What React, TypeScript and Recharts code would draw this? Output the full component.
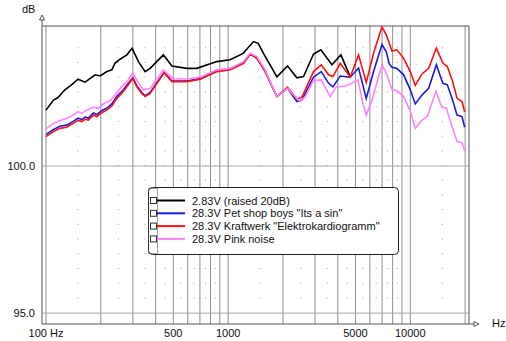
import { Legend, Line, LineChart, ReferenceLine, XAxis, YAxis } from 'recharts'

// axis range, Hz and dB
const X_MIN = 95.1
const X_MAX = 21000
const Y_MIN = 94.63
const Y_MAX = 104.76

const X_TICKS = [100, 500, 1000, 5000, 10000]
const Y_TICKS = [95, 100]
const GRID_FREQS = [
  100, 200, 300, 400, 500, 600, 700, 800, 900, 1000, 2000, 3000, 4000, 5000, 6000, 7000, 8000,
  9000, 10000, 20000,
]
const DOT_FREQS = [
  150, 250, 350, 450, 550, 650, 750, 850, 1500, 2500, 3500, 4500, 5500, 6500, 7500, 8500, 15000,
]

const BLACK_FREQ = [
  100, 110, 116, 127, 138, 150, 164, 175, 186, 198, 216, 230, 239, 255, 278, 297, 322, 350, 373,
  441, 491, 593, 673, 867, 1026, 1209, 1377, 1462, 1563, 1852, 2118, 2385, 2593, 2943, 3229, 3714,
  4160, 4680,
]
const BLACK_DB = [
  101.9, 102.24, 102.32, 102.59, 102.76, 102.95, 102.85, 102.98, 103.1, 103.06, 103.21, 103.27,
  103.49, 103.63, 103.78, 104.0, 103.55, 103.21, 103.32, 103.78, 103.4, 103.32, 103.32, 103.55,
  103.61, 103.83, 104.23, 104.17, 103.83, 103.03, 103.4, 103.0, 103.04, 103.81, 103.95, 103.44,
  103.78, 103.03,
]

const BLUE_FREQ = [
  100, 110, 119, 130, 141, 150, 157, 164, 171, 182, 190, 202, 216, 230, 245, 266, 283, 300, 315,
  336, 350, 373, 445, 491, 593, 702, 867, 1026, 1214, 1321, 1438, 1597, 1852, 2118, 2385, 2540,
  2943, 3243, 3557, 3761, 4125, 4680, 5198, 5731, 6287, 6990, 7380, 7670, 7936, 8450, 9190, 10000,
  10650, 11590, 12610, 13900, 15090, 15970, 17080, 18050, 19230, 19880,
]
const BLUE_DB = [
  101.07, 101.24, 101.35, 101.39, 101.52, 101.63, 101.58, 101.66, 101.63, 101.8, 101.75, 101.88,
  101.97, 102.11, 102.37, 102.59, 102.81, 103.0, 102.73, 102.5, 102.39, 102.5, 103.19, 102.89,
  102.89, 102.97, 103.22, 103.28, 103.5, 103.81, 103.67, 103.22, 102.36, 102.64, 102.19, 102.24,
  103.02, 103.21, 102.82, 102.69, 103.06, 103.02, 103.33, 102.3, 103.21, 104.13, 103.88, 103.47,
  103.36, 103.32, 103.1, 102.59, 102.11, 102.41, 102.64, 103.44, 102.81, 102.76, 102.24, 101.73,
  101.68, 101.32,
]

const RED_FREQ = [
  100, 110, 119, 130, 141, 150, 157, 164, 171, 182, 190, 202, 216, 230, 245, 266, 283, 300, 315,
  336, 350, 373, 445, 491, 593, 702, 867, 1026, 1214, 1321, 1438, 1597, 1852, 2118, 2385, 2540,
  2943, 3243, 3557, 3761, 4125, 4680, 5198, 5731, 6287, 6990, 7380, 7936, 8450, 9190, 10000, 10650,
  11590, 12610, 13900, 15090, 15970, 17080, 18050, 19230, 19880,
]
const RED_DB = [
  101.0, 101.17, 101.28, 101.32, 101.45, 101.56, 101.51, 101.59, 101.56, 101.73, 101.68, 101.81,
  101.9, 102.04, 102.3, 102.53, 102.76, 102.98, 102.7, 102.47, 102.36, 102.47, 103.17, 102.87,
  102.87, 102.95, 103.21, 103.27, 103.49, 103.81, 103.66, 103.21, 102.36, 102.68, 102.27, 102.34,
  103.21, 103.44, 103.1, 103.04, 103.49, 103.02, 103.78, 102.84, 103.84, 104.73, 104.46, 103.91,
  103.95, 103.66, 103.21, 102.74, 103.13, 103.32, 104.01, 103.5, 103.38, 102.87, 102.3, 102.19,
  101.84,
]

const PINK_FREQ = [
  100, 110, 119, 130, 141, 150, 157, 167, 182, 194, 206, 225, 239, 255, 278, 300, 315, 342, 373,
  441, 501, 593, 702, 867, 1026, 1214, 1321, 1438, 1597, 1852, 2118, 2486, 2650, 2943, 3243, 3635,
  3920, 4395, 4680, 5160, 5497, 5731, 6160, 6990, 7380, 7936, 8450, 9190, 10000, 10650, 11590,
  12400, 13810, 14890, 15770, 16950, 18050, 19230, 19930,
]
const PINK_DB = [
  101.26, 101.45, 101.54, 101.62, 101.73, 101.85, 101.79, 101.9, 102.0, 101.96, 102.11, 102.22,
  102.41, 102.64, 102.87, 103.16, 102.93, 102.59, 102.64, 103.27, 102.96, 102.96, 103.02, 103.27,
  103.32, 103.55, 103.83, 103.72, 103.27, 102.36, 102.64, 102.19, 102.36, 102.91, 102.93, 102.36,
  102.69, 102.72, 102.79, 102.93, 102.13, 101.73, 102.24, 103.44, 103.16, 102.59, 102.56, 102.36,
  101.87, 101.28, 101.56, 101.68, 102.53, 102.01, 101.96, 101.34, 100.84, 100.78, 100.51,
]

const toPoints = (freqs: number[], dbs: number[]) => freqs.map((f, i) => ({ f, db: dbs[i] }))

const SERIES = [
  { name: '2.83V (raised 20dB)', color: '#000000', data: toPoints(BLACK_FREQ, BLACK_DB) },
  { name: '28.3V Pet shop boys "Its a sin"', color: '#1a1adf', data: toPoints(BLUE_FREQ, BLUE_DB) },
  {
    name: '28.3V Kraftwerk "Elektrokardiogramm"',
    color: '#ff1010',
    data: toPoints(RED_FREQ, RED_DB),
  },
  { name: '28.3V Pink noise', color: '#ff80ff', data: toPoints(PINK_FREQ, PINK_DB) },
]
const SERIES_NAMES = SERIES.map((s) => s.name)

const WIDTH = 506
const HEIGHT = 341
const MARGIN = { top: 26, right: 37, bottom: 0, left: 0 }
const PLOT_H = HEIGHT - MARGIN.top - 17
const DOT_GAP = (0.5 * PLOT_H) / (Y_MAX - Y_MIN) - 1

const FONT = '"Liberation Sans", Arial, sans-serif'

function LegendBox({ payload }: any) {
  // keep the series order, recharts sorts the payload by name
  const items = [...(payload ?? [])].sort(
    (a: any, b: any) => SERIES_NAMES.indexOf(a.value) - SERIES_NAMES.indexOf(b.value),
  )
  return (
    <svg width={252} height={69} style={{ display: 'block' }}>
      <rect x={0.5} y={0.5} width={250} height={67} rx={4} fill="#fff" stroke="#222" />
      <rect x={0.5} y={1.5} width={9} height={65} fill="none" stroke="#444" strokeDasharray="1 1" />
      {items.map((item: any, i: number) => {
        const y = 13.5 + i * 12.8
        return (
          <g key={item.value}>
            <rect x={2.5} y={y - 3} width={6} height={6} fill="#fff" stroke="#333" />
            <line x1={9} x2={37} y1={y} y2={y} stroke={item.color} strokeWidth={2} />
            <text x={44} y={y + 4} fontSize={11} fontFamily={FONT} fill="#111">
              {item.value}
            </text>
          </g>
        )
      })}
    </svg>
  )
}

export default function App() {
  return (
    <div
      style={{
        position: 'absolute',
        left: 0,
        top: 0,
        width: WIDTH,
        height: HEIGHT,
        background: '#fff',
        fontFamily: FONT,
      }}
    >
      <LineChart width={WIDTH} height={HEIGHT} margin={MARGIN}>
        <XAxis
          dataKey="f"
          type="number"
          scale="log"
          domain={[X_MIN, X_MAX]}
          allowDataOverflow
          ticks={X_TICKS}
          tickFormatter={(v: number) => (v === 100 ? '100 Hz' : String(v))}
          tickSize={0}
          tickMargin={5}
          height={17}
          axisLine={{ stroke: '#555' }}
          tick={{ fill: '#111', fontSize: 11, fontFamily: FONT }}
        />
        <YAxis
          dataKey="db"
          type="number"
          domain={[Y_MIN, Y_MAX]}
          allowDataOverflow
          ticks={Y_TICKS}
          tickFormatter={(v: number) => v.toFixed(1)}
          tickSize={0}
          tickMargin={7}
          width={42}
          axisLine={{ stroke: '#555' }}
          tick={{ fill: '#111', fontSize: 11, fontFamily: FONT }}
        />
        {GRID_FREQS.map((f) => (
          <ReferenceLine key={`g${f}`} x={f} stroke="#8f8f8f" />
        ))}
        {DOT_FREQS.map((f) => (
          <ReferenceLine
            key={`d${f}`}
            segment={[
              { x: f, y: 95.5 },
              { x: f, y: 104.5 },
            ]}
            stroke="#9a9a9a"
            strokeDasharray={`1 ${DOT_GAP}`}
          />
        ))}
        {Y_TICKS.map((v) => (
          <ReferenceLine key={`h${v}`} y={v} stroke="#a8a8a8" />
        ))}
        <ReferenceLine y={Y_MAX} stroke="#555" />
        <ReferenceLine x={X_MAX} stroke="#555" />
        {SERIES.map((s) => (
          <Line
            key={s.name}
            data={s.data}
            dataKey="db"
            name={s.name}
            type="linear"
            stroke={s.color}
            strokeWidth={1.6}
            dot={false}
            isAnimationActive={false}
          />
        ))}
        <Legend
          layout="vertical"
          verticalAlign="middle"
          align="center"
          content={<LegendBox />}
          wrapperStyle={{ position: 'absolute', left: 148, top: 187, width: 252 }}
        />
      </LineChart>
      <svg
        width={WIDTH}
        height={HEIGHT}
        style={{ position: 'absolute', left: 0, top: 0, pointerEvents: 'none' }}
      >
        <line x1={42} x2={42} y1={20} y2={26} stroke="#555" />
        <polygon points="42,15 39.5,20 44.5,20" fill="#fff" stroke="#555" />
        <line x1={469} x2={474} y1={324} y2={324} stroke="#555" />
        <polygon points="479,324 474,321.5 474,326.5" fill="#fff" stroke="#555" />
        <text x={22} y={13} fontSize={11} fontFamily={FONT} fill="#111">
          dB
        </text>
        <text x={492} y={327} fontSize={11} fontFamily={FONT} fill="#111">
          Hz
        </text>
      </svg>
    </div>
  )
}
